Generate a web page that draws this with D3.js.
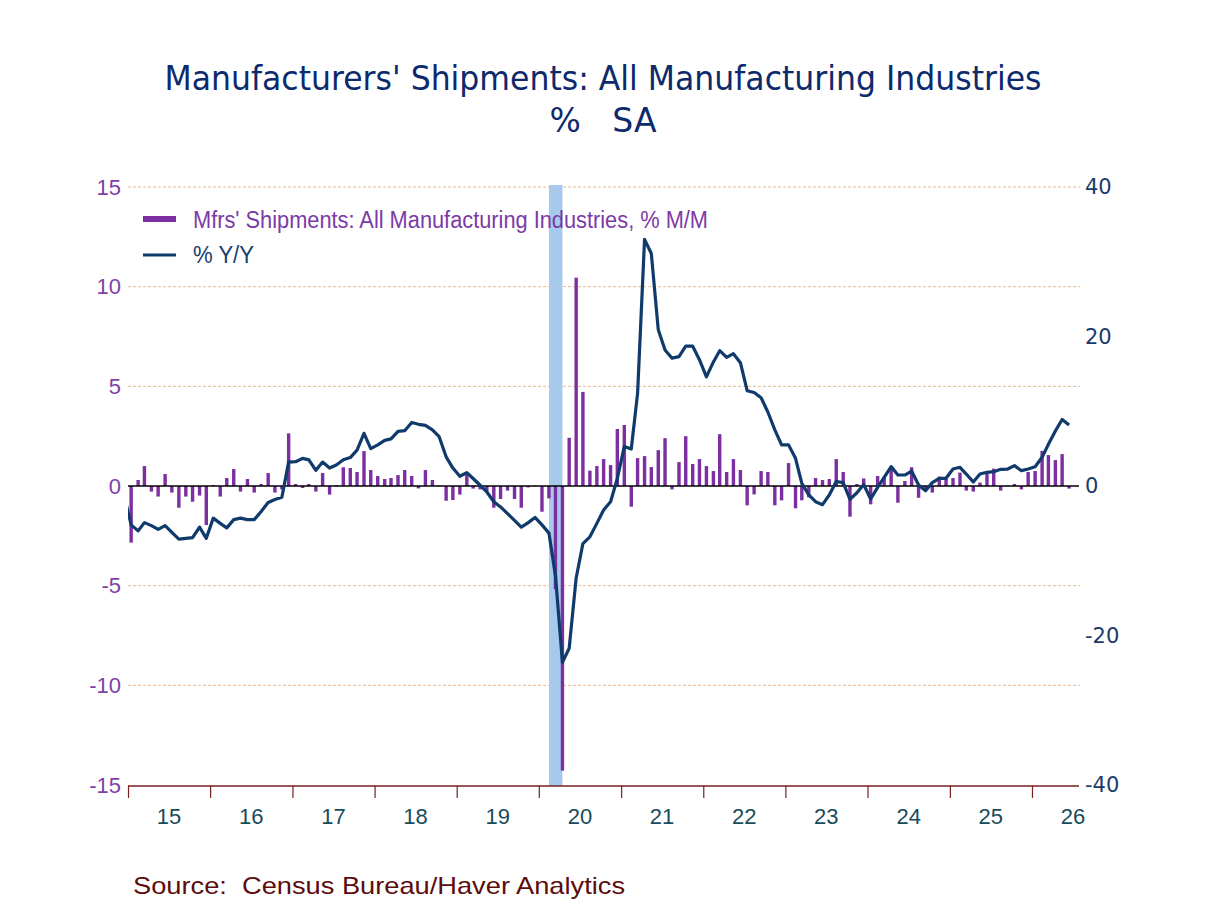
<!DOCTYPE html>
<html>
<head>
<meta charset="utf-8">
<script src="https://cdn.jsdelivr.net/npm/d3@7"></script>
<style>
  html, body { margin: 0; padding: 0; background: #fff; }
  svg { display: block; }
</style>
</head>
<body>
<div id="chart"></div>
<script>
// monthly data, Jan 2015 .. Jun 2026
const startMonth = new Date(2015, 0, 15);

const momValues = [
  -2.84, 0.3, 1.0, -0.28, -0.53, 0.6, -0.33, -1.09, -0.53, -0.79, -0.48, -1.96,
  0.05, -0.53, 0.4, 0.85, -0.28, 0.35, -0.33, 0.1, 0.65, -0.33, -0.17, 2.64,
  0.1, -0.1, 0.1, -0.28, 0.65, -0.43, 0.05, 0.94, 0.9, 0.7, 1.75, 0.8,
  0.5, 0.35, 0.4, 0.55, 0.8, 0.5, -0.12, 0.8, 0.3, 0.03, -0.74, -0.7,
  -0.43, 0.6, -0.13, -0.17, -0.28, -1.09, -0.65, -0.23, -0.65, -1.09, -0.07, 0.03,
  -1.29, -0.62, -5.18, -14.28, 2.42, 10.45, 4.72, 0.77, 1.0, 1.35, 1.05, 2.86,
  3.06, -1.04, 1.4, 1.5, 0.95, 1.8, 2.4, -0.17, 1.2, 2.5, 1.1, 1.35,
  1.0, 0.75, 2.6, 0.7, 1.35, 0.8, -0.97, -0.42, 0.75, 0.7, -0.97, -0.72,
  1.15, -1.12, -0.72, -0.57, 0.4, 0.3, 0.35, 1.35, 0.7, -1.54, 0.1, 0.38,
  -0.92, 0.5, 0.43, 0.84, -0.84, 0.25, 0.94, -0.59, -0.17, -0.33, 0.47, 0.35,
  0.4, 0.67, -0.23, -0.28, 0.17, 0.6, 0.87, -0.23, 0.03, 0.1, -0.17, 0.7,
  0.75, 1.76, 1.55, 1.3, 1.6, -0.13
];

// Y/Y starts one month earlier (Dec 2014), partly clipped at the left edge
const yoyValues = [
  -1.3,
  -5.2, -6.0, -4.9, -5.3, -5.8, -5.3, -6.2, -7.1, -7.0, -6.9, -5.5, -7.0,
  -4.3, -5.0, -5.6, -4.5, -4.3, -4.5, -4.5, -3.4, -2.2, -1.8, -1.5, 3.2,
  3.25, 3.7, 3.5, 2.1, 3.2, 2.4, 2.8, 3.5, 3.8, 4.8, 7.05, 5.0,
  5.5, 6.1, 6.3, 7.3, 7.4, 8.5, 8.25, 8.1, 7.5, 6.6, 3.9, 2.4,
  1.3, 1.8, 1.0, 0.1, -0.8, -2.1, -2.8, -3.7, -4.6, -5.5, -4.9, -4.2,
  -5.2, -6.3, -12.0, -23.6, -21.7, -12.3, -7.7, -6.8, -5.0, -3.2, -2.1, 1.0,
  5.3, 4.95, 12.4, 33.0, 31.1, 20.9, 18.2, 17.1, 17.3, 18.7, 18.7, 16.9,
  14.6, 16.6, 18.1, 17.2, 17.7, 16.5, 12.75, 12.5, 11.8, 9.9, 7.5, 5.5,
  5.5, 3.7, 0.35, -1.2, -2.1, -2.5, -1.2, 0.6, 0.45, -1.8, -0.9, 0.2,
  -1.74, -0.18, 1.16, 2.6, 1.47, 1.47, 2.0, 0.13, -0.63, 0.45, 1.03, 1.03,
  2.27, 2.5, 1.6, 0.54, 1.6, 1.83, 1.92, 2.23, 2.27, 2.72, 2.05, 2.27,
  2.58, 3.84, 5.57, 7.36, 8.9, 8.16
];

const leftTicks = [-15, -10, -5, 0, 5, 10, 15];
const rightTicks = [-40, -20, 0, 20, 40];
const yearLabels = ["15", "16", "17", "18", "19", "20", "21", "22", "23", "24", "25", "26"];
const recession = [new Date(2020, 1, 15), new Date(2020, 3, 15)];

const titleLines = ["Manufacturers' Shipments: All Manufacturing Industries", "%   SA"];
const legendLabels = ["Mfrs' Shipments: All Manufacturing Industries, % M/M", "% Y/Y"];
const sourceText = "Source:  Census Bureau/Haver Analytics";

const W = 1208, H = 906;
const pL = 128, pR = 1079, pT = 187, pB = 785;

const barColor = "#7b2fa0";
const lineColor = "#0f3a6b";

const svg = d3.select("#chart").append("svg")
  .attr("width", W).attr("height", H)
  .style("font-family", "'Liberation Sans', Arial, sans-serif");

const mom = momValues.map((v, i) => ({ date: d3.timeMonth.offset(startMonth, i), value: v }));
const yoy = yoyValues.map((v, i) => ({ date: d3.timeMonth.offset(startMonth, i - 1), value: v }));

const x = d3.scaleTime()
  .domain([new Date(2015, 0, 1), new Date(2026, 6, 29)])
  .range([pL, pR]);
const yL = d3.scaleLinear().domain([-15, 15]).range([pB, pT]);
const yR = d3.scaleLinear().domain([-40, 40]).range([pB, pT]);

svg.append("defs").append("clipPath").attr("id", "plot")
  .append("rect").attr("x", pL).attr("y", pT - 5).attr("width", pR - pL).attr("height", pB - pT + 10);

// title
svg.append("text")
  .attr("x", 603).attr("y", 90)
  .attr("text-anchor", "middle")
  .attr("textLength", 877).attr("lengthAdjust", "spacingAndGlyphs")
  .style("font-family", "'DejaVu Sans', Verdana, sans-serif")
  .style("font-size", "33px")
  .attr("fill", "#0c2a6c")
  .text(titleLines[0]);
svg.append("text")
  .attr("x", 603).attr("y", 132)
  .attr("text-anchor", "middle")
  .style("font-family", "'DejaVu Sans', Verdana, sans-serif")
  .style("font-size", "33px")
  .style("white-space", "pre")
  .attr("fill", "#0c2a6c")
  .text(titleLines[1]);

// grid lines
svg.append("g")
  .selectAll("line")
  .data(leftTicks.filter(d => d !== 0 && d !== -15))
  .join("line")
  .attr("x1", pL).attr("x2", pR + 1)
  .attr("y1", d => yL(d)).attr("y2", d => yL(d))
  .attr("stroke", "#e9b98f")
  .attr("stroke-width", 1)
  .attr("stroke-dasharray", "3,2");

// recession shading
svg.append("rect")
  .attr("x", x(recession[0]))
  .attr("width", x(recession[1]) - x(recession[0]))
  .attr("y", pT - 2)
  .attr("height", pB - pT + 3)
  .attr("fill", "#a6c9ec");

// bars
const barW = 3.4;
svg.append("g")
  .selectAll("rect")
  .data(mom)
  .join("rect")
  .attr("x", d => x(d.date) - barW / 2)
  .attr("width", barW)
  .attr("y", d => yL(Math.max(0, d.value)))
  .attr("height", d => Math.abs(yL(d.value) - yL(0)))
  .attr("fill", barColor);

// zero line
svg.append("line")
  .attr("x1", pL).attr("x2", pR)
  .attr("y1", yL(0)).attr("y2", yL(0))
  .attr("stroke", "#000").attr("stroke-width", 1.3);

// Y/Y line
svg.append("path")
  .datum(yoy)
  .attr("clip-path", "url(#plot)")
  .attr("fill", "none")
  .attr("stroke", lineColor)
  .attr("stroke-width", 3.2)
  .attr("stroke-linejoin", "round")
  .attr("d", d3.line().x(d => x(d.date)).y(d => yR(d.value)));

// bottom axis with year ticks
const xAxis = svg.append("g")
  .attr("transform", `translate(0,${pB + 1})`)
  .call(d3.axisBottom(x).ticks(d3.timeYear.every(1)).tickSize(12).tickFormat(""));
xAxis.select(".domain").remove();
xAxis.selectAll(".tick line").attr("stroke", "#7a1f1f").attr("stroke-width", 1.2);
svg.append("line")
  .attr("x1", pL).attr("x2", pR)
  .attr("y1", pB + 1).attr("y2", pB + 1)
  .attr("stroke", "#7a1f1f").attr("stroke-width", 1.5);

svg.append("g")
  .selectAll("text")
  .data(yearLabels)
  .join("text")
  .attr("x", (d, i) => x(new Date(2015 + i, 6, 2)))
  .attr("y", 824)
  .attr("text-anchor", "middle")
  .style("font-size", "22px")
  .attr("fill", "#174c5c")
  .text(d => d);

// left axis labels (plain hyphen for negatives)
const yAxisL = svg.append("g")
  .attr("transform", `translate(${pL - 7},0)`)
  .call(d3.axisLeft(yL).tickValues(leftTicks).tickSize(0).tickPadding(0).tickFormat(d => String(d)));
yAxisL.select(".domain").remove();
yAxisL.selectAll("text")
  .style("font-family", "'Liberation Sans', Arial, sans-serif")
  .style("font-size", "22px")
  .attr("fill", "#8040a8");

// right axis labels
const yAxisR = svg.append("g")
  .attr("transform", `translate(${pR + 6},0)`)
  .call(d3.axisRight(yR).tickValues(rightTicks).tickSize(0).tickPadding(0).tickFormat(d => String(d)));
yAxisR.select(".domain").remove();
yAxisR.selectAll("text")
  .style("font-family", "'DejaVu Sans', Verdana, sans-serif")
  .style("font-size", "21px")
  .attr("fill", "#1b3a6c");

// legend
const legend = svg.append("g");
legend.append("rect")
  .attr("x", 143).attr("y", 216).attr("width", 33).attr("height", 6)
  .attr("fill", barColor);
legend.append("text")
  .attr("x", 193).attr("y", 228)
  .attr("textLength", 515).attr("lengthAdjust", "spacingAndGlyphs")
  .style("font-size", "23px")
  .attr("fill", "#7b3aa6")
  .text(legendLabels[0]);
legend.append("line")
  .attr("x1", 143).attr("x2", 176).attr("y1", 255).attr("y2", 255)
  .attr("stroke", lineColor).attr("stroke-width", 3);
legend.append("text")
  .attr("x", 193).attr("y", 263)
  .attr("textLength", 61).attr("lengthAdjust", "spacingAndGlyphs")
  .style("font-size", "23px")
  .attr("fill", "#173d6c")
  .text(legendLabels[1]);

// source
svg.append("text")
  .attr("x", 133).attr("y", 894)
  .attr("textLength", 492).attr("lengthAdjust", "spacingAndGlyphs")
  .style("font-size", "24px")
  .style("white-space", "pre")
  .attr("fill", "#5c0c0c")
  .text(sourceText);
</script>
</body>
</html>
